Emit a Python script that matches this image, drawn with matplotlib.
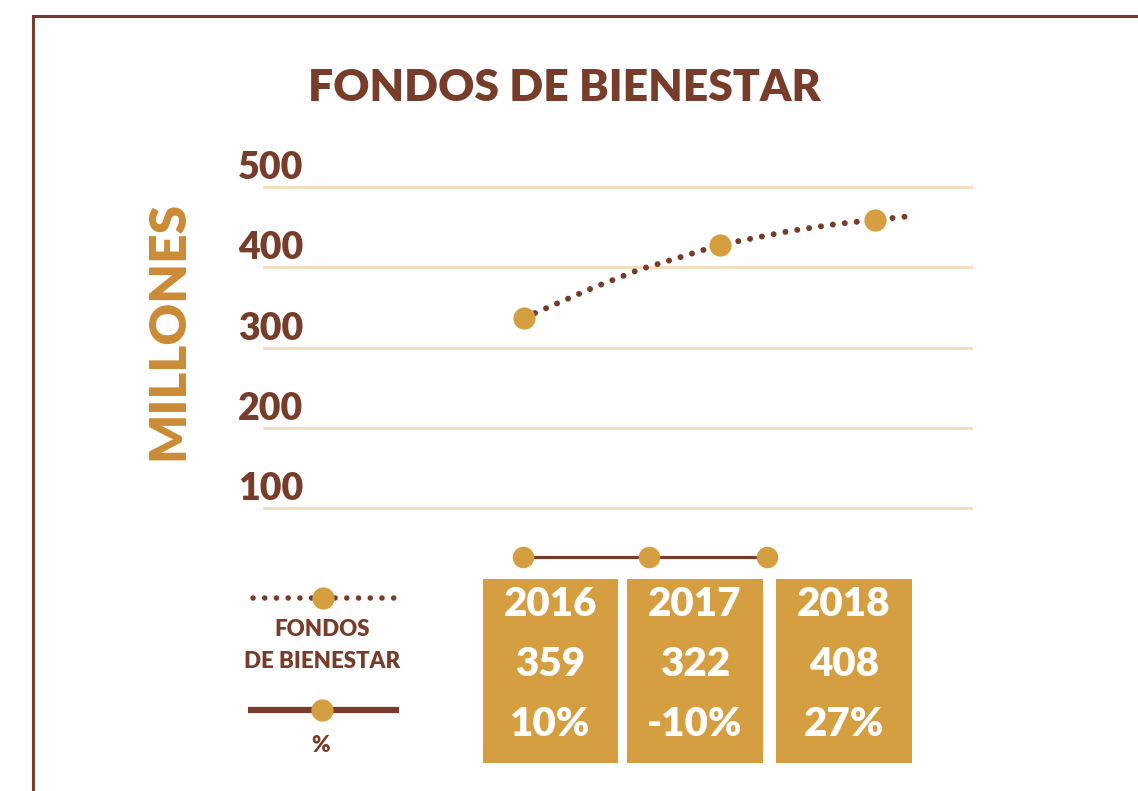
import matplotlib.pyplot as plt
from matplotlib.patches import Rectangle

# datos
anios = ["2016", "2017", "2018"]
fondos = ["359", "322", "408"]
variacion = ["10%", "-10%", "27%"]

# curva punteada (posicion horizontal relativa, millones)
curva_x = [0.0, 0.357, 0.587, 0.816, 1.0, 1.352, 1.597, 1.791, 1.98]
curva_y = [337, 375, 397, 414, 428, 445, 454, 459, 464]
puntos_x = [0.0, 1.0, 1.791]
puntos_y = [337, 428, 459]

ticks_y = [100, 200, 300, 400, 500]

CAFE = "#773d2a"
ORO = "#d59e41"
ORO2 = "#cc8b35"
LINEA = "#f3dfc0"
FUENTE = ["Lato", "DejaVu Sans"]

W, H = 1138, 791
fig = plt.figure(figsize=(W / 100, H / 100), dpi=100)
plt.rcParams["font.family"] = FUENTE

# capa en pixeles para marco, leyenda y tabla
bg = fig.add_axes([0, 0, 1, 1])
bg.set_xlim(0, W)
bg.set_ylim(H, 0)
bg.axis("off")

bg.plot([33, 33, W], [H, 16, 16], color=CAFE, lw=2.2, solid_joinstyle="miter")

bg.text(564, 88, "FONDOS DE BIENESTAR", color=CAFE, fontsize=32, fontweight="heavy",
        ha="center", va="center")
bg.text(168, 330, "MILLONES", color=ORO2, fontsize=37, fontweight="heavy",
        rotation=90, ha="center", va="center")

# grafico principal
y_px = lambda v: 347.6 - 0.803 * (v - 300)
ylo, yhi = 80, 520
x0, x1 = 263, 973
ax = fig.add_axes([x0 / W, 1 - y_px(ylo) / H, (x1 - x0) / W, (y_px(ylo) - y_px(yhi)) / H])
ax.set_xlim((x0 - 524) / 196, (x1 - 524) / 196)
ax.set_ylim(ylo, yhi)
ax.patch.set_alpha(0)
for s in ax.spines.values():
    s.set_visible(False)
ax.set_xticks([])
ax.set_yticks([])
for t in ticks_y:
    ax.axhline(t, color=LINEA, lw=2.2, zorder=1)
    ax.annotate(str(t), (0, t), xycoords=("axes fraction", "data"), xytext=(40, 2),
                textcoords="offset pixels", ha="right", va="bottom",
                color=CAFE, fontsize=27, fontweight="heavy")

ax.plot(curva_x, curva_y, color=CAFE, lw=4.3, linestyle=(0, (0.01, 2.0)),
        dash_capstyle="round", zorder=2)
ax.plot(puntos_x, puntos_y, "o", color=ORO, ms=16, mec="none", zorder=3)

# linea de tiempo
tl_x = [523, 649, 767]
bg.plot(tl_x, [557] * 3, color=CAFE, lw=2.3, zorder=2)
bg.plot(tl_x, [557] * 3, "o", color=ORO, ms=15.5, mec="none", zorder=3)

# tabla
cajas = [(483, 618), (627, 763), (776, 912)]
for (a, b), anio, f, v in zip(cajas, anios, fondos, variacion):
    bg.add_patch(Rectangle((a, 579), b - a, 184, color=ORO, lw=0))
    cx = (a + b) / 2
    for yy, txt in zip([604, 665, 724], [anio, f, v]):
        bg.text(cx, yy, txt, color="white", fontsize=29, fontweight="heavy",
                ha="center", va="center")

# leyenda
bg.plot([253, 395], [598, 598], color=CAFE, lw=4, linestyle=(0, (0.01, 2.1)),
        dash_capstyle="round")
bg.plot([323], [598], "o", color=ORO, ms=16, mec="none")
bg.text(322, 630, "FONDOS", color=CAFE, fontsize=16, fontweight="heavy", ha="center", va="center")
bg.text(322, 662, "DE BIENESTAR", color=CAFE, fontsize=16, fontweight="heavy", ha="center", va="center")
bg.plot([248, 399], [710, 710], color=CAFE, lw=4.5, solid_capstyle="butt")
bg.plot([322], [710], "o", color=ORO, ms=16, mec="none")
bg.text(321, 745, "%", color=CAFE, fontsize=16, fontweight="heavy", ha="center", va="center")

fig.savefig("out.png", dpi=100)
